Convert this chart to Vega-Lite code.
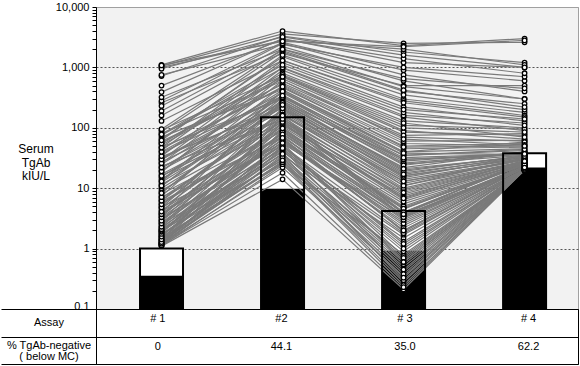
{
"$schema": "https://vega.github.io/schema/vega-lite/v6.json",
"padding": {"left": 0, "top": 0, "right": 2, "bottom": 3},
"config": {"font": "Liberation Sans", "view": {"stroke": null}},
"spacing": 0,
"bounds": "flush",
"datasets": {
"bars": [{"a":1,"mc":1.0,"low":0.355},{"a":2,"mc":150,"low":9.8},{"a":3,"mc":4.2,"low":0.92},{"a":4,"mc":38,"low":22}],
"table": [{"a":1,"row":"Assay","t":"# 1"},{"a":2,"row":"Assay","t":"#2"},{"a":3,"row":"Assay","t":"# 3"},{"a":4,"row":"Assay","t":"# 4"},{"a":1,"row":"% TgAb-negative ( below MC)","t":"0"},{"a":2,"row":"% TgAb-negative ( below MC)","t":"44.1"},{"a":3,"row":"% TgAb-negative ( below MC)","t":"35.0"},{"a":4,"row":"% TgAb-negative ( below MC)","t":"62.2"}],
"pts": [
{"p":1,"a":1,"v":1.1},{"p":1,"a":2,"v":14},{"p":1,"a":3,"v":0.21},{"p":1,"a":4,"v":20},
{"p":2,"a":1,"v":1.12},{"p":2,"a":2,"v":24},{"p":2,"a":3,"v":0.8},{"p":2,"a":4,"v":20},
{"p":3,"a":1,"v":1.15},{"p":3,"a":2,"v":35},{"p":3,"a":3,"v":1.5},{"p":3,"a":4,"v":21},
{"p":4,"a":1,"v":1.18},{"p":4,"a":2,"v":22},{"p":4,"a":3,"v":0.35},{"p":4,"a":4,"v":20},
{"p":5,"a":1,"v":1.2},{"p":5,"a":2,"v":60},{"p":5,"a":3,"v":2.8},{"p":5,"a":4,"v":22},
{"p":6,"a":1,"v":1.22},{"p":6,"a":2,"v":28},{"p":6,"a":3,"v":0.5},{"p":6,"a":4,"v":20},
{"p":7,"a":1,"v":1.25},{"p":7,"a":2,"v":45},{"p":7,"a":3,"v":1.1},{"p":7,"a":4,"v":20},
{"p":8,"a":1,"v":1.3},{"p":8,"a":2,"v":90},{"p":8,"a":3,"v":5.5},{"p":8,"a":4,"v":24},
{"p":9,"a":1,"v":1.33},{"p":9,"a":2,"v":26},{"p":9,"a":3,"v":0.28},{"p":9,"a":4,"v":20},
{"p":10,"a":1,"v":1.37},{"p":10,"a":2,"v":38},{"p":10,"a":3,"v":0.65},{"p":10,"a":4,"v":21},
{"p":11,"a":1,"v":1.4},{"p":11,"a":2,"v":150},{"p":11,"a":3,"v":9},{"p":11,"a":4,"v":27},
{"p":12,"a":1,"v":1.45},{"p":12,"a":2,"v":32},{"p":12,"a":3,"v":0.42},{"p":12,"a":4,"v":20},
{"p":13,"a":1,"v":1.5},{"p":13,"a":2,"v":55},{"p":13,"a":3,"v":3.2},{"p":13,"a":4,"v":22},
{"p":14,"a":1,"v":1.55},{"p":14,"a":2,"v":25},{"p":14,"a":3,"v":0.25},{"p":14,"a":4,"v":20},
{"p":15,"a":1,"v":1.6},{"p":15,"a":2,"v":75},{"p":15,"a":3,"v":1.9},{"p":15,"a":4,"v":23},
{"p":16,"a":1,"v":1.66},{"p":16,"a":2,"v":42},{"p":16,"a":3,"v":0.9},{"p":16,"a":4,"v":21},
{"p":17,"a":1,"v":1.72},{"p":17,"a":2,"v":30},{"p":17,"a":3,"v":0.55},{"p":17,"a":4,"v":20},
{"p":18,"a":1,"v":1.8},{"p":18,"a":2,"v":120},{"p":18,"a":3,"v":6.5},{"p":18,"a":4,"v":26},
{"p":19,"a":1,"v":1.88},{"p":19,"a":2,"v":48},{"p":19,"a":3,"v":1.3},{"p":19,"a":4,"v":21},
{"p":20,"a":1,"v":1.95},{"p":20,"a":2,"v":65},{"p":20,"a":3,"v":2.4},{"p":20,"a":4,"v":22},
{"p":21,"a":1,"v":2.05},{"p":21,"a":2,"v":40},{"p":21,"a":3,"v":1.7},{"p":21,"a":4,"v":21},
{"p":22,"a":1,"v":2.15},{"p":22,"a":2,"v":85},{"p":22,"a":3,"v":4.8},{"p":22,"a":4,"v":24},
{"p":23,"a":1,"v":2.25},{"p":23,"a":2,"v":52},{"p":23,"a":3,"v":0.75},{"p":23,"a":4,"v":20},
{"p":24,"a":1,"v":2.4},{"p":24,"a":2,"v":200},{"p":24,"a":3,"v":14},{"p":24,"a":4,"v":30},
{"p":25,"a":1,"v":2.55},{"p":25,"a":2,"v":36},{"p":25,"a":3,"v":0.3},{"p":25,"a":4,"v":20},
{"p":26,"a":1,"v":2.7},{"p":26,"a":2,"v":70},{"p":26,"a":3,"v":3.6},{"p":26,"a":4,"v":22},
{"p":27,"a":1,"v":2.85},{"p":27,"a":2,"v":110},{"p":27,"a":3,"v":7.5},{"p":27,"a":4,"v":26},
{"p":28,"a":1,"v":3.0},{"p":28,"a":2,"v":58},{"p":28,"a":3,"v":2.2},{"p":28,"a":4,"v":22},
{"p":29,"a":1,"v":3.2},{"p":29,"a":2,"v":44},{"p":29,"a":3,"v":0.45},{"p":29,"a":4,"v":20},
{"p":30,"a":1,"v":3.4},{"p":30,"a":2,"v":160},{"p":30,"a":3,"v":11},{"p":30,"a":4,"v":28},
{"p":31,"a":1,"v":3.6},{"p":31,"a":2,"v":95},{"p":31,"a":3,"v":5},{"p":31,"a":4,"v":25},
{"p":32,"a":1,"v":3.8},{"p":32,"a":2,"v":62},{"p":32,"a":3,"v":2.6},{"p":32,"a":4,"v":23},
{"p":33,"a":1,"v":4.0},{"p":33,"a":2,"v":300},{"p":33,"a":3,"v":25},{"p":33,"a":4,"v":35},
{"p":34,"a":1,"v":4.3},{"p":34,"a":2,"v":80},{"p":34,"a":3,"v":3.9},{"p":34,"a":4,"v":22},
{"p":35,"a":1,"v":4.6},{"p":35,"a":2,"v":130},{"p":35,"a":3,"v":8},{"p":35,"a":4,"v":27},
{"p":36,"a":1,"v":4.9},{"p":36,"a":2,"v":50},{"p":36,"a":3,"v":1.2},{"p":36,"a":4,"v":21},
{"p":37,"a":1,"v":5.2},{"p":37,"a":2,"v":240},{"p":37,"a":3,"v":18},{"p":37,"a":4,"v":32},
{"p":38,"a":1,"v":5.6},{"p":38,"a":2,"v":105},{"p":38,"a":3,"v":6},{"p":38,"a":4,"v":25},
{"p":39,"a":1,"v":6.0},{"p":39,"a":2,"v":72},{"p":39,"a":3,"v":3.0},{"p":39,"a":4,"v":23},
{"p":40,"a":1,"v":6.4},{"p":40,"a":2,"v":180},{"p":40,"a":3,"v":12},{"p":40,"a":4,"v":30},
{"p":41,"a":1,"v":6.9},{"p":41,"a":2,"v":140},{"p":41,"a":3,"v":9.5},{"p":41,"a":4,"v":28},
{"p":42,"a":1,"v":7.4},{"p":42,"a":2,"v":400},{"p":42,"a":3,"v":40},{"p":42,"a":4,"v":45},
{"p":43,"a":1,"v":8.0},{"p":43,"a":2,"v":88},{"p":43,"a":3,"v":4.5},{"p":43,"a":4,"v":26},
{"p":44,"a":1,"v":8.6},{"p":44,"a":2,"v":250},{"p":44,"a":3,"v":22},{"p":44,"a":4,"v":40},
{"p":45,"a":1,"v":9.2},{"p":45,"a":2,"v":115},{"p":45,"a":3,"v":7},{"p":45,"a":4,"v":29},
{"p":46,"a":1,"v":10},{"p":46,"a":2,"v":170},{"p":46,"a":3,"v":10},{"p":46,"a":4,"v":28},
{"p":47,"a":1,"v":10.8},{"p":47,"a":2,"v":350},{"p":47,"a":3,"v":30},{"p":47,"a":4,"v":36},
{"p":48,"a":1,"v":11.6},{"p":48,"a":2,"v":125},{"p":48,"a":3,"v":3.4},{"p":48,"a":4,"v":24},
{"p":49,"a":1,"v":12.5},{"p":49,"a":2,"v":220},{"p":49,"a":3,"v":16},{"p":49,"a":4,"v":31},
{"p":50,"a":1,"v":13.5},{"p":50,"a":2,"v":500},{"p":50,"a":3,"v":55},{"p":50,"a":4,"v":50},
{"p":51,"a":1,"v":14.5},{"p":51,"a":2,"v":145},{"p":51,"a":3,"v":3.8},{"p":51,"a":4,"v":27},
{"p":52,"a":1,"v":15.5},{"p":52,"a":2,"v":280},{"p":52,"a":3,"v":20},{"p":52,"a":4,"v":34},
{"p":53,"a":1,"v":17},{"p":53,"a":2,"v":190},{"p":53,"a":3,"v":13},{"p":53,"a":4,"v":30},
{"p":54,"a":1,"v":18.5},{"p":54,"a":2,"v":700},{"p":54,"a":3,"v":90},{"p":54,"a":4,"v":65},
{"p":55,"a":1,"v":20},{"p":55,"a":2,"v":230},{"p":55,"a":3,"v":15},{"p":55,"a":4,"v":33},
{"p":56,"a":1,"v":21.5},{"p":56,"a":2,"v":320},{"p":56,"a":3,"v":28},{"p":56,"a":4,"v":39},
{"p":57,"a":1,"v":23},{"p":57,"a":2,"v":135},{"p":57,"a":3,"v":4.0},{"p":57,"a":4,"v":26},
{"p":58,"a":1,"v":25},{"p":58,"a":2,"v":420},{"p":58,"a":3,"v":45},{"p":58,"a":4,"v":48},
{"p":59,"a":1,"v":27},{"p":59,"a":2,"v":260},{"p":59,"a":3,"v":19},{"p":59,"a":4,"v":35},
{"p":60,"a":1,"v":29},{"p":60,"a":2,"v":900},{"p":60,"a":3,"v":150},{"p":60,"a":4,"v":90},
{"p":61,"a":1,"v":31},{"p":61,"a":2,"v":380},{"p":61,"a":3,"v":35},{"p":61,"a":4,"v":42},
{"p":62,"a":1,"v":33},{"p":62,"a":2,"v":210},{"p":62,"a":3,"v":11},{"p":62,"a":4,"v":32},
{"p":63,"a":1,"v":36},{"p":63,"a":2,"v":550},{"p":63,"a":3,"v":70},{"p":63,"a":4,"v":60},
{"p":64,"a":1,"v":39},{"p":64,"a":2,"v":330},{"p":64,"a":3,"v":26},{"p":64,"a":4,"v":38},
{"p":65,"a":1,"v":42},{"p":65,"a":2,"v":1200},{"p":65,"a":3,"v":220},{"p":65,"a":4,"v":130},
{"p":66,"a":1,"v":45},{"p":66,"a":2,"v":460},{"p":66,"a":3,"v":50},{"p":66,"a":4,"v":55},
{"p":67,"a":1,"v":48},{"p":67,"a":2,"v":300},{"p":67,"a":3,"v":24},{"p":67,"a":4,"v":40},
{"p":68,"a":1,"v":52},{"p":68,"a":2,"v":650},{"p":68,"a":3,"v":85},{"p":68,"a":4,"v":75},
{"p":69,"a":1,"v":56},{"p":69,"a":2,"v":800},{"p":69,"a":3,"v":130},{"p":69,"a":4,"v":100},
{"p":70,"a":1,"v":60},{"p":70,"a":2,"v":520},{"p":70,"a":3,"v":60},{"p":70,"a":4,"v":62},
{"p":71,"a":1,"v":65},{"p":71,"a":2,"v":1500},{"p":71,"a":3,"v":300},{"p":71,"a":4,"v":180},
{"p":72,"a":1,"v":70},{"p":72,"a":2,"v":430},{"p":72,"a":3,"v":40},{"p":72,"a":4,"v":58},
{"p":73,"a":1,"v":75},{"p":73,"a":2,"v":980},{"p":73,"a":3,"v":160},{"p":73,"a":4,"v":120},
{"p":74,"a":1,"v":80},{"p":74,"a":2,"v":600},{"p":74,"a":3,"v":75},{"p":74,"a":4,"v":80},
{"p":75,"a":1,"v":86},{"p":75,"a":2,"v":1800},{"p":75,"a":3,"v":400},{"p":75,"a":4,"v":250},
{"p":76,"a":1,"v":92},{"p":76,"a":2,"v":720},{"p":76,"a":3,"v":110},{"p":76,"a":4,"v":95},
{"p":77,"a":1,"v":130},{"p":77,"a":2,"v":1300},{"p":77,"a":3,"v":280},{"p":77,"a":4,"v":160},
{"p":78,"a":1,"v":190},{"p":78,"a":2,"v":2200},{"p":78,"a":3,"v":600},{"p":78,"a":4,"v":300},
{"p":79,"a":1,"v":260},{"p":79,"a":2,"v":1700},{"p":79,"a":3,"v":500},{"p":79,"a":4,"v":500},
{"p":80,"a":1,"v":280},{"p":80,"a":2,"v":2600},{"p":80,"a":3,"v":900},{"p":80,"a":4,"v":600},
{"p":81,"a":1,"v":390},{"p":81,"a":2,"v":3000},{"p":81,"a":3,"v":1200},{"p":81,"a":4,"v":1000},
{"p":82,"a":1,"v":720},{"p":82,"a":2,"v":3300},{"p":82,"a":3,"v":1800},{"p":82,"a":4,"v":1200},
{"p":83,"a":1,"v":750},{"p":83,"a":2,"v":2400},{"p":83,"a":3,"v":1000},{"p":83,"a":4,"v":700},
{"p":84,"a":1,"v":1000},{"p":84,"a":2,"v":2800},{"p":84,"a":3,"v":2000},{"p":84,"a":4,"v":1100},
{"p":85,"a":1,"v":1050},{"p":85,"a":2,"v":3600},{"p":85,"a":3,"v":2500},{"p":85,"a":4,"v":2600},
{"p":86,"a":1,"v":1100},{"p":86,"a":2,"v":4000},{"p":86,"a":3,"v":2300},{"p":86,"a":4,"v":3000},
{"p":87,"a":1,"v":1.14},{"p":87,"a":2,"v":18},{"p":87,"a":3,"v":0.23},{"p":87,"a":4,"v":20},
{"p":88,"a":1,"v":1.21},{"p":88,"a":2,"v":33},{"p":88,"a":3,"v":0.6},{"p":88,"a":4,"v":20},
{"p":89,"a":1,"v":1.28},{"p":89,"a":2,"v":50},{"p":89,"a":3,"v":1.8},{"p":89,"a":4,"v":21},
{"p":90,"a":1,"v":1.42},{"p":90,"a":2,"v":27},{"p":90,"a":3,"v":0.38},{"p":90,"a":4,"v":20},
{"p":91,"a":1,"v":1.58},{"p":91,"a":2,"v":85},{"p":91,"a":3,"v":3.5},{"p":91,"a":4,"v":23},
{"p":92,"a":1,"v":1.75},{"p":92,"a":2,"v":37},{"p":92,"a":3,"v":0.7},{"p":92,"a":4,"v":20},
{"p":93,"a":1,"v":1.9},{"p":93,"a":2,"v":100},{"p":93,"a":3,"v":4.6},{"p":93,"a":4,"v":25},
{"p":94,"a":1,"v":1.98},{"p":94,"a":2,"v":29},{"p":94,"a":3,"v":0.33},{"p":94,"a":4,"v":20},
{"p":95,"a":1,"v":2.1},{"p":95,"a":2,"v":46},{"p":95,"a":3,"v":1.0},{"p":95,"a":4,"v":21},
{"p":96,"a":1,"v":2.3},{"p":96,"a":2,"v":125},{"p":96,"a":3,"v":8.5},{"p":96,"a":4,"v":27},
{"p":97,"a":1,"v":2.6},{"p":97,"a":2,"v":64},{"p":97,"a":3,"v":2.0},{"p":97,"a":4,"v":22},
{"p":98,"a":1,"v":2.9},{"p":98,"a":2,"v":210},{"p":98,"a":3,"v":16},{"p":98,"a":4,"v":31},
{"p":99,"a":1,"v":3.3},{"p":99,"a":2,"v":78},{"p":99,"a":3,"v":3.3},{"p":99,"a":4,"v":23},
{"p":100,"a":1,"v":3.7},{"p":100,"a":2,"v":140},{"p":100,"a":3,"v":6.8},{"p":100,"a":4,"v":26},
{"p":101,"a":1,"v":4.1},{"p":101,"a":2,"v":56},{"p":101,"a":3,"v":0.6},{"p":101,"a":4,"v":21},
{"p":102,"a":1,"v":4.8},{"p":102,"a":2,"v":270},{"p":102,"a":3,"v":30},{"p":102,"a":4,"v":36},
{"p":103,"a":1,"v":5.4},{"p":103,"a":2,"v":98},{"p":103,"a":3,"v":4.0},{"p":103,"a":4,"v":25},
{"p":104,"a":1,"v":6.2},{"p":104,"a":2,"v":165},{"p":104,"a":3,"v":13},{"p":104,"a":4,"v":29},
{"p":105,"a":1,"v":7.1},{"p":105,"a":2,"v":68},{"p":105,"a":3,"v":2.0},{"p":105,"a":4,"v":22},
{"p":106,"a":1,"v":8.3},{"p":106,"a":2,"v":320},{"p":106,"a":3,"v":35},{"p":106,"a":4,"v":44},
{"p":107,"a":1,"v":11},{"p":107,"a":2,"v":260},{"p":107,"a":3,"v":21},{"p":107,"a":4,"v":33},
{"p":108,"a":1,"v":13},{"p":108,"a":2,"v":400},{"p":108,"a":3,"v":38},{"p":108,"a":4,"v":36},
{"p":109,"a":1,"v":16},{"p":109,"a":2,"v":160},{"p":109,"a":3,"v":3.7},{"p":109,"a":4,"v":28},
{"p":110,"a":1,"v":19},{"p":110,"a":2,"v":600},{"p":110,"a":3,"v":65},{"p":110,"a":4,"v":52},
{"p":111,"a":1,"v":22},{"p":111,"a":2,"v":240},{"p":111,"a":3,"v":17},{"p":111,"a":4,"v":34},
{"p":112,"a":1,"v":26},{"p":112,"a":2,"v":750},{"p":112,"a":3,"v":120},{"p":112,"a":4,"v":70},
{"p":113,"a":1,"v":30},{"p":113,"a":2,"v":340},{"p":113,"a":3,"v":32},{"p":113,"a":4,"v":37},
{"p":114,"a":1,"v":34},{"p":114,"a":2,"v":1000},{"p":114,"a":3,"v":180},{"p":114,"a":4,"v":110},
{"p":115,"a":1,"v":40},{"p":115,"a":2,"v":480},{"p":115,"a":3,"v":48},{"p":115,"a":4,"v":50},
{"p":116,"a":1,"v":47},{"p":116,"a":2,"v":1300},{"p":116,"a":3,"v":260},{"p":116,"a":4,"v":150},
{"p":117,"a":1,"v":55},{"p":117,"a":2,"v":700},{"p":117,"a":3,"v":100},{"p":117,"a":4,"v":85},
{"p":118,"a":1,"v":62},{"p":118,"a":2,"v":1600},{"p":118,"a":3,"v":350},{"p":118,"a":4,"v":200},
{"p":119,"a":1,"v":78},{"p":119,"a":2,"v":1100},{"p":119,"a":3,"v":200},{"p":119,"a":4,"v":140},
{"p":120,"a":1,"v":95},{"p":120,"a":2,"v":2000},{"p":120,"a":3,"v":480},{"p":120,"a":4,"v":300},
{"p":121,"a":1,"v":160},{"p":121,"a":2,"v":1900},{"p":121,"a":3,"v":420},{"p":121,"a":4,"v":220},
{"p":122,"a":1,"v":230},{"p":122,"a":2,"v":2500},{"p":122,"a":3,"v":750},{"p":122,"a":4,"v":400},
{"p":123,"a":1,"v":320},{"p":123,"a":2,"v":2000},{"p":123,"a":3,"v":650},{"p":123,"a":4,"v":450},
{"p":124,"a":1,"v":500},{"p":124,"a":2,"v":2900},{"p":124,"a":3,"v":1400},{"p":124,"a":4,"v":800},
{"p":125,"a":1,"v":950},{"p":125,"a":2,"v":3200},{"p":125,"a":3,"v":1600},{"p":125,"a":4,"v":1000},
{"p":126,"a":1,"v":1080},{"p":126,"a":2,"v":2700},{"p":126,"a":3,"v":2200},{"p":126,"a":4,"v":2800}
]
},
"vconcat": [
{
"width": 482, "height": 302,
"view": {"fill": "#f2f2f2", "stroke": "#a0a0a0"},
"layer": [
{"data": {"name": "bars"},
 "mark": {"type": "bar", "size": 43, "color": "white"},
 "encoding": {
  "x": {"field": "a", "type": "quantitative", "scale": {"domain": [0.5, 4.4], "nice": false, "zero": false}, "axis": null},
  "y": {"field": "mc", "type": "quantitative", "scale": {"type": "log", "domain": [0.1, 10000], "nice": false},
   "axis": {
    "title": ["Serum", "TgAb", "kIU/L"], "titleAngle": 0, "titleX": -60.5, "titleY": 136.5, "titleAlign": "center", "titleBaseline": "top",
    "titleFontSize": 12, "titleFontWeight": "normal", "titleLineHeight": 13.5, "titleColor": "black",
    "values": [0.1,0.2,0.3,0.4,0.5,0.6,0.7,0.8,0.9,1,2,3,4,5,6,7,8,9,10,20,30,40,50,60,70,80,90,100,200,300,400,500,600,700,800,900,1000,2000,3000,4000,5000,6000,7000,8000,9000,10000],
    "labelExpr": "indexof([0.1,1,10,100,1000,10000], datum.value) >= 0 ? format(datum.value, ',~g') : ''",
    "labelOverlap": false, "labelFlush": false, "labelFontSize": 11, "labelColor": "black", "labelPadding": 3,
    "labelBaseline": {"condition": {"test": "datum.value == 0.1", "value": "alphabetic"}, "value": "middle"},
    "tickSize": 4, "tickColor": "black", "domainColor": "black",
    "grid": true,
    "gridColor": {"condition": {"test": "datum.value == 10000", "value": "#a0a0a0"}, "value": "#555555"},
    "gridDash": {"condition": {"test": "datum.value == 10000", "value": [1, 0]}, "value": [2, 2]},
    "gridOpacity": {"condition": {"test": "indexof([1,10,100,1000,10000], datum.value) >= 0", "value": 1}, "value": 0}
   }},
  "y2": {"datum": 0.1}
 }},
{"data": {"name": "bars"},
 "mark": {"type": "bar", "size": 43, "color": "black"},
 "encoding": {
  "x": {"field": "a", "type": "quantitative", "scale": {"domain": [0.5, 4.4], "nice": false, "zero": false}, "axis": null},
  "y": {"field": "low", "type": "quantitative", "scale": {"type": "log", "domain": [0.1, 10000], "nice": false}},
  "y2": {"datum": 0.1}
 }},
{"data": {"name": "pts"},
 "mark": {"type": "line", "color": "#7a7a7a", "strokeWidth": 1.2},
 "encoding": {
  "x": {"field": "a", "type": "quantitative", "scale": {"domain": [0.5, 4.4], "nice": false, "zero": false}, "axis": null},
  "y": {"field": "v", "type": "quantitative", "scale": {"type": "log", "domain": [0.1, 10000], "nice": false}},
  "detail": {"field": "p", "type": "nominal"}
 }},
{"data": {"name": "bars"},
 "mark": {"type": "bar", "size": 43, "filled": false, "stroke": "black", "strokeWidth": 2},
 "encoding": {
  "x": {"field": "a", "type": "quantitative", "scale": {"domain": [0.5, 4.4], "nice": false, "zero": false}, "axis": null},
  "y": {"field": "mc", "type": "quantitative", "scale": {"type": "log", "domain": [0.1, 10000], "nice": false}},
  "y2": {"datum": 0.1}
 }},
{"data": {"name": "pts"},
 "mark": {"type": "point", "filled": true, "fill": "white", "stroke": "black", "strokeWidth": 1.3, "size": 20, "opacity": 1},
 "encoding": {
  "x": {"field": "a", "type": "quantitative", "scale": {"domain": [0.5, 4.4], "nice": false, "zero": false}, "axis": null},
  "y": {"field": "v", "type": "quantitative", "scale": {"type": "log", "domain": [0.1, 10000], "nice": false}}
 }}
]
},
{
"width": 482, "height": 55,
"view": {"fill": "white", "stroke": "black"},
"data": {"name": "table"},
"mark": {"type": "text", "fontSize": 11, "dy": -3.5, "color": "black"},
"encoding": {
 "x": {"field": "a", "type": "quantitative", "scale": {"domain": [0.5, 4.4], "nice": false, "zero": false}, "axis": null},
 "y": {"field": "row", "type": "nominal", "scale": {"type": "band", "domain": ["Assay", "% TgAb-negative ( below MC)"], "paddingInner": 0, "paddingOuter": 0},
  "axis": {"title": null, "tickBand": "extent", "tickSize": 95, "tickColor": "black", "domainColor": "black",
   "grid": true, "gridColor": "black", "gridOpacity": 1,
   "labelAlign": "center", "labelBaseline": "middle", "labelPadding": -47.5, "labelFontSize": 11, "labelColor": "black", "labelLineHeight": 11.5,
   "labelOffset": {"condition": {"test": "datum.value == 'Assay'", "value": 0}, "value": -5},
   "labelExpr": "indexof(datum.label, '(') > 0 ? [slice(datum.label, 0, indexof(datum.label, '(') - 1), slice(datum.label, indexof(datum.label, '('))] : datum.label"}},
 "text": {"field": "t"}
}
}
]
}
